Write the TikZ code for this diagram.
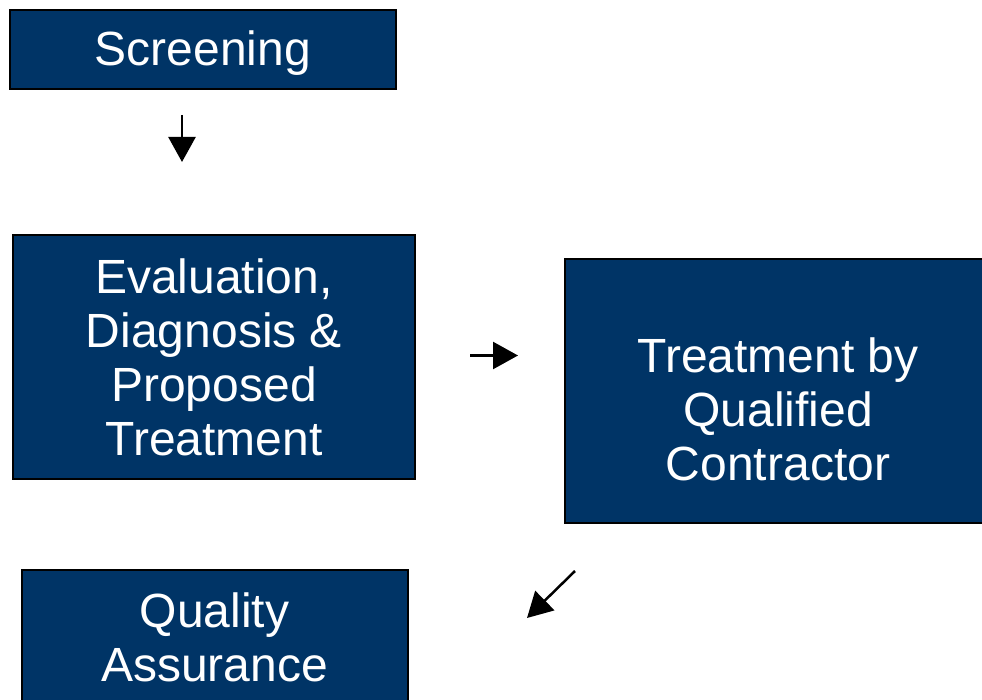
\documentclass[tikz,border=0pt]{standalone}
\usepackage{fontspec}
\setmainfont{Liberation Sans}
\usetikzlibrary{arrows.meta}
\definecolor{boxblue}{RGB}{0,52,102}
\begin{document}
\begin{tikzpicture}[x=1pt,y=-1pt,
  boxshape/.style={draw=black, line width=2pt, fill=boxblue, inner sep=0pt, rectangle},
  boxtext/.style={text=white, font=\fontsize{48}{54}\selectfont, align=center, inner sep=0pt},
  arr/.style={line width=2.5pt, -{Triangle[length=25pt,width=27pt]}}]
\useasboundingbox (0,0) rectangle (982,700);
\fill[white] (0,0) rectangle (982,700);
% boxes
\node[boxshape, minimum width=386pt, minimum height=79pt] (scr) at (203,49.5) {};
\node[boxtext, anchor=base] (scrt) at (203,65.5) {Screening};
\node[boxshape, minimum width=402pt, minimum height=244pt] (eval) at (214,357) {};
\node[boxtext] (evalt) at (214,357) {Evaluation,\\Diagnosis \&\\Proposed\\Treatment};
\node[boxshape, minimum width=430pt, minimum height=264pt] (treat) at (780,391) {};
\node[boxtext] (treatt) at (778,409.5) {Treatment by\\Qualified\\Contractor};
\node[boxshape, minimum width=386pt, minimum height=150pt] (qa) at (215,645) {};
\node[boxtext] (qat) at (214.5,637) {Quality\\Assurance};
% arrows
\coordinate (a1s) at (182,115);
\coordinate (a1e) at (182,162);
\coordinate (a2s) at (470,355.5);
\coordinate (a2e) at (518,355.5);
\coordinate (a3s) at (575,571);
\coordinate (a3e) at (527,618);
\draw[arr] (a1s) -- (a1e);
\draw[arr] (a2s) -- (a2e);
\draw[arr] (a3s) -- (a3e);
\end{tikzpicture}
\end{document}
